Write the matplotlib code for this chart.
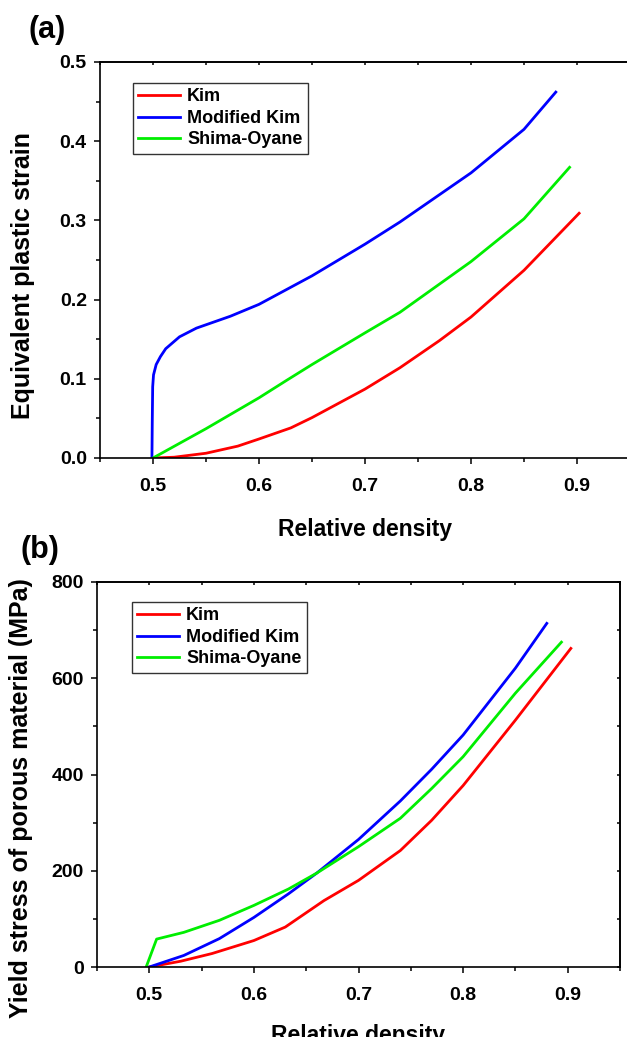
import numpy as np
import matplotlib
matplotlib.use("Agg")
from matplotlib import pyplot as plt
from matplotlib.ticker import MultipleLocator, NullFormatter

plt.rcParams["font.family"] = ["Liberation Sans", "DejaVu Sans"]
plt.rcParams["font.weight"] = "bold"
plt.rcParams["axes.labelweight"] = "bold"

# (a) equivalent plastic strain vs relative density
kim_a_x = [0.5, 0.52, 0.55, 0.58, 0.6, 0.63, 0.65, 0.7, 0.733, 0.77, 0.8, 0.85, 0.902]
kim_a_y = [0.0, 0.001, 0.006, 0.015, 0.024, 0.038, 0.051, 0.087, 0.114, 0.148, 0.178, 0.237, 0.309]

mkim_a_x = [0.499, 0.4993, 0.4997, 0.5005, 0.503, 0.507, 0.512, 0.525, 0.541, 0.573,
            0.6, 0.65, 0.7, 0.733, 0.8, 0.85, 0.88]
mkim_a_y = [0.0, 0.045, 0.09, 0.105, 0.118, 0.128, 0.138, 0.153, 0.164, 0.179,
            0.194, 0.23, 0.27, 0.298, 0.36, 0.415, 0.462]

so_a_x = [0.5, 0.55, 0.6, 0.626, 0.65, 0.7, 0.733, 0.8, 0.85, 0.893]
so_a_y = [0.0, 0.037, 0.076, 0.098, 0.118, 0.158, 0.184, 0.248, 0.302, 0.367]

# (b) yield stress of porous material (MPa) vs relative density
kim_b_x = [0.5, 0.53, 0.56, 0.6, 0.63, 0.667, 0.7, 0.74, 0.77, 0.8, 0.85, 0.903]
kim_b_y = [0, 12, 28, 55, 83, 138, 180, 242, 305, 377, 513, 662]

mkim_b_x = [0.5, 0.533, 0.567, 0.6, 0.633, 0.66, 0.7, 0.74, 0.77, 0.8, 0.85, 0.88]
mkim_b_y = [0, 24, 59, 103, 152, 195, 265, 345, 411, 482, 621, 714]

so_b_x = [0.497, 0.507, 0.533, 0.567, 0.6, 0.633, 0.66, 0.7, 0.74, 0.77, 0.8, 0.85, 0.894]
so_b_y = [0, 58, 72, 97, 128, 162, 195, 250, 309, 371, 437, 569, 675]

labels = ["Kim", "Modified Kim", "Shima-Oyane"]
colors = ["#ff0000", "#0000ff", "#00ee00"]

W, H = 627, 1037
fig = plt.figure(figsize=(W / 100, H / 100), dpi=100)


def px_axes(l, t, r, b):
    return fig.add_axes([l / W, 1 - b / H, (r - l) / W, (b - t) / H])


def style(ax, ymajor, yminor, ylim, ylabel, xlab_y, ylab_x, ylab_y, right_ticks=True):
    ax.set_xlim(0.45, 0.95)
    ax.set_ylim(*ylim)
    ax.xaxis.set_major_locator(MultipleLocator(0.1))
    ax.xaxis.set_minor_locator(MultipleLocator(0.05))
    ax.yaxis.set_major_locator(MultipleLocator(ymajor))
    ax.yaxis.set_minor_locator(MultipleLocator(yminor))
    ax.tick_params(which="major", direction="out", length=4.5, width=1.1, labelsize=14)
    ax.tick_params(which="minor", direction="out", length=3, width=1.1)
    ax.tick_params(axis="x", which="major", pad=10)
    ax.tick_params(axis="y", which="major", pad=5)
    for s in ax.spines.values():
        s.set_linewidth(1.2)
    ax.set_xlabel("Relative density", fontsize=16.5)
    ax.set_ylabel(ylabel, fontsize=18)
    ax.xaxis.set_label_coords(0.5, xlab_y)
    ax.yaxis.set_label_coords(ylab_x, ylab_y)

    top = ax.secondary_xaxis("top")
    top.xaxis.set_major_locator(MultipleLocator(0.05))
    top.xaxis.set_major_formatter(NullFormatter())
    top.tick_params(direction="in", length=2.5, width=1.1)
    top.spines["top"].set_linewidth(1.2)
    if right_ticks:
        right = ax.secondary_yaxis("right")
        right.yaxis.set_major_locator(MultipleLocator(yminor))
        right.yaxis.set_major_formatter(NullFormatter())
        right.tick_params(direction="in", length=2.5, width=1.1)
        right.spines["right"].set_linewidth(1.2)


def legend(ax, x, y):
    leg = ax.legend(loc="upper left", bbox_to_anchor=(x, y), borderaxespad=0,
                    fancybox=False, edgecolor="#333333", framealpha=1,
                    prop={"size": 13, "weight": "bold"}, handlelength=2.3,
                    handletextpad=0.4, labelspacing=0.25, borderpad=0.3)
    leg.get_frame().set_linewidth(1.0)


# panel (a)
ax1 = px_axes(100, 62, 630, 458)
ax1.plot(kim_a_x, kim_a_y, color=colors[0], lw=2, label=labels[0])
ax1.plot(mkim_a_x, mkim_a_y, color=colors[1], lw=2, label=labels[1])
ax1.plot(so_a_x, so_a_y, color=colors[2], lw=2, label=labels[2])
style(ax1, 0.1, 0.05, (0, 0.5), "Equivalent plastic strain", -0.152, -0.123, 0.46,
      right_ticks=False)
ax1.yaxis.set_major_formatter(plt.FuncFormatter(lambda v, p: f"{v:.1f}"))
legend(ax1, (133 - 100) / 530, (458 - 83) / 396)

# panel (b)
ax2 = px_axes(97, 582, 620, 967)
ax2.plot(kim_b_x, kim_b_y, color=colors[0], lw=2, label=labels[0])
ax2.plot(mkim_b_x, mkim_b_y, color=colors[1], lw=2, label=labels[1])
ax2.plot(so_b_x, so_b_y, color=colors[2], lw=2, label=labels[2])
style(ax2, 200, 100, (0, 800), "Yield stress of porous material (MPa)", -0.148, -0.122, 0.44)
legend(ax2, (132 - 97) / 523, (967 - 602) / 385)

fig.text(28 / W, 1 - 30 / H, "(a)", fontsize=22, fontweight="bold", va="center", ha="left")
fig.text(20 / W, 1 - 550 / H, "(b)", fontsize=22, fontweight="bold", va="center", ha="left")

fig.savefig("out.png", dpi=100)
